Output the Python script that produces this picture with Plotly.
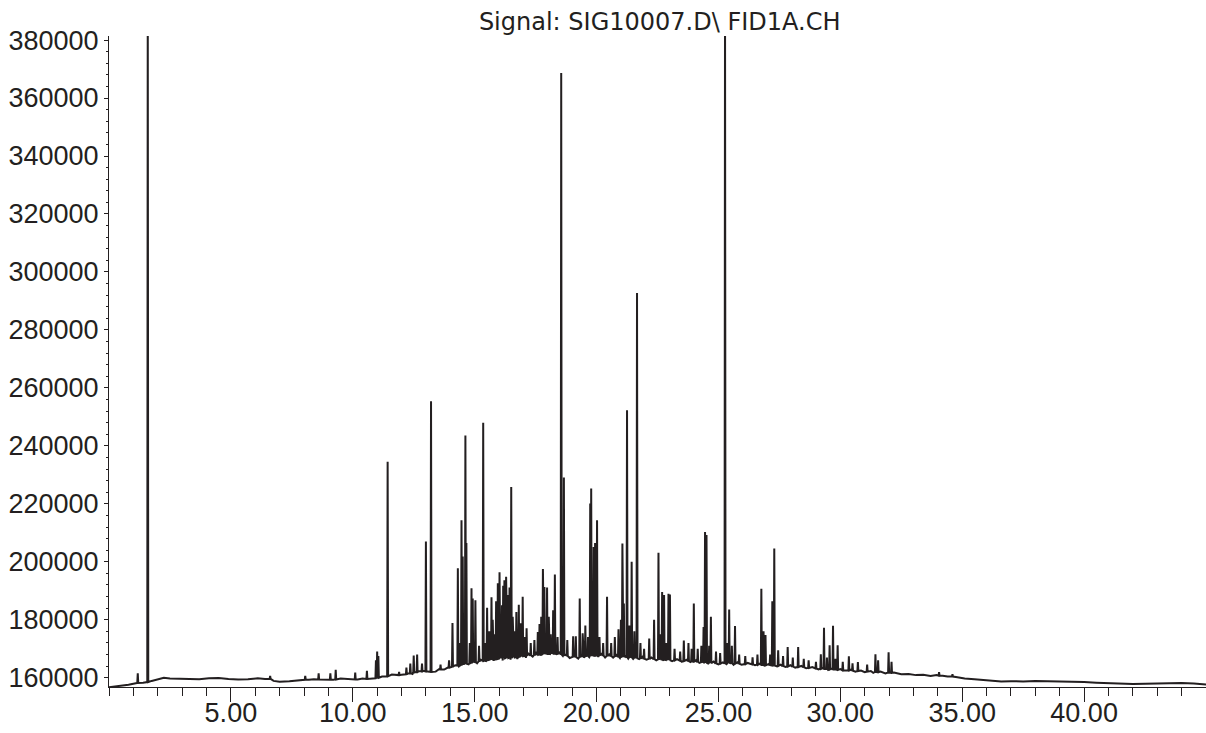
import numpy as np
import plotly.graph_objects as go

# Baseline of the FID trace: retention time (min) and detector response
base_t = [
    0.00, 0.40, 0.80, 1.10, 1.40, 1.75, 2.00, 2.25, 2.50, 2.90, 3.30, 3.70, 4.10, 4.50,
    4.90, 5.30, 5.70, 6.10, 6.40, 6.75, 7.00, 7.40, 7.80, 8.20, 8.40, 8.80, 9.20, 9.50,
    9.80, 10.20, 10.40, 10.80, 11.20, 11.60, 11.80, 12.00, 12.25, 12.45, 12.70, 12.90,
    13.10, 13.40, 13.55, 13.75, 13.90, 14.20, 14.35, 14.55, 14.75, 14.95, 15.10, 15.25,
    15.45, 15.65, 15.78, 16.00, 16.15, 16.33, 16.47, 16.60, 16.75, 16.92, 17.10, 17.20,
    17.38, 17.52, 17.70, 17.90, 18.08, 18.18, 18.35, 18.48, 18.62, 18.75, 18.90, 19.10,
    19.25, 19.38, 19.48, 19.60, 19.70, 19.85, 20.07, 20.20, 20.35, 20.52, 20.68, 20.82,
    20.96, 21.17, 21.30, 21.40, 21.50, 21.62, 21.75, 21.88, 22.05, 22.25, 22.45, 22.60,
    22.75, 22.92, 23.10, 23.30, 23.50, 23.70, 23.85, 24.08, 24.22, 24.36, 24.58, 24.80,
    25.00, 25.18, 25.33, 25.50, 25.62, 25.78, 25.95, 26.20, 26.50, 26.70, 26.90, 27.05,
    27.40, 27.55, 27.75, 27.95, 28.15, 28.40, 28.60, 28.85, 29.10, 29.28, 29.50, 29.65,
    29.85, 30.00, 30.25, 30.45, 30.62, 30.85, 31.00, 31.25, 31.35, 31.65, 31.85, 32.20,
    32.50, 32.80, 33.10, 33.40, 33.70, 33.95, 34.20, 34.40, 34.80, 35.10, 35.50, 35.80,
    36.20, 36.60, 37.00, 37.50, 38.00, 38.50, 39.00, 39.50, 40.00, 40.50, 41.00, 41.50,
    42.00, 42.50, 43.00, 43.50, 44.00, 44.50, 45.00,
]
base_v = [
    156700, 157100, 157600, 158100, 158300, 158900, 159500, 160000, 159700, 159600, 159500, 159500, 159800, 159900,
    159600, 159400, 159500, 159800, 159600, 158900, 158600, 158800, 159200, 159300, 159500, 159300, 159300, 159700,
    159500, 159400, 159700, 159800, 160400, 161100, 160800, 161000, 161500, 161300, 162200, 162400,
    162000, 162100, 163000, 162800, 163500, 164300, 163900, 165000, 164600, 165600, 165000, 166200,
    165500, 166600, 165800, 167000, 165900, 167400, 166200, 167300, 166500, 167900, 166800, 168300,
    167300, 168500, 167600, 168800, 167900, 169000, 168100, 168700, 167500, 168000, 166800, 167600,
    166600, 167800, 166900, 168000, 167100, 168200, 167200, 168200, 167000, 168000, 166900, 167800,
    166800, 167500, 166600, 167600, 166500, 167400, 166400, 167200, 166200, 167000, 166000, 166800,
    165900, 166600, 165700, 166400, 165500, 166200, 165400, 166000, 165100, 165800, 164900, 165600,
    164600, 165300, 164700, 165200, 164500, 165300, 164500, 165100, 164300, 164900, 164000, 164700,
    163900, 164500, 163700, 164300, 163500, 164100, 163300, 163700, 162900, 163400, 162700, 163200,
    162500, 163000, 162400, 162800, 162100, 162500, 161900, 162300, 161700, 162100, 161500, 161800,
    161200, 161300, 160900, 161000, 160600, 160900, 160700, 160400, 160200, 159700, 159500, 159300,
    158900, 158700, 158800, 158700, 158900, 158800, 158900, 158600, 158500, 158300, 158100, 157900,
    157800, 157900, 158000, 158100, 158200, 158000, 157700,
]

# Peak table: retention time, apex response, response at the peak foot
peak_rt = [
    1.18, 1.59, 6.61, 8.05, 8.60, 9.08, 9.30, 10.10, 10.58, 10.95, 11.00, 11.05, 11.43, 11.90,
    12.20, 12.36, 12.50, 12.64, 12.84, 13.00, 13.21, 13.60, 13.95, 14.09, 14.31, 14.40, 14.46,
    14.51, 14.62, 14.66, 14.80, 14.87, 14.92, 15.03, 15.18, 15.35, 15.42, 15.51, 15.60, 15.69,
    15.74, 15.81, 15.88, 15.95, 16.02, 16.07, 16.12, 16.17, 16.22, 16.29, 16.36, 16.43, 16.50,
    16.56, 16.63, 16.71, 16.81, 16.88, 16.97, 17.05, 17.13, 17.30, 17.45, 17.59, 17.66, 17.73,
    17.80, 17.86, 17.97, 18.04, 18.12, 18.22, 18.29, 18.40, 18.55, 18.66, 18.80, 19.04, 19.15,
    19.31, 19.43, 19.54, 19.65, 19.74, 19.78, 19.88, 19.94, 20.02, 20.12, 20.27, 20.43, 20.60,
    20.75, 20.90, 21.00, 21.06, 21.12, 21.25, 21.35, 21.44, 21.55, 21.66, 21.80, 21.95, 22.16,
    22.36, 22.54, 22.63, 22.69, 22.77, 22.86, 22.95, 23.01, 23.20, 23.43, 23.58, 23.77, 23.90,
    23.99, 24.15, 24.30, 24.39, 24.45, 24.51, 24.62, 24.69, 24.90, 25.07, 25.27, 25.37, 25.44,
    25.55, 25.68, 25.85, 26.10, 26.40, 26.60, 26.76, 26.85, 26.93, 27.12, 27.21, 27.29, 27.45,
    27.65, 27.84, 28.05, 28.27, 28.50, 28.70, 29.00, 29.20, 29.33, 29.45, 29.56, 29.70, 29.80,
    29.89, 30.10, 30.35, 30.50, 30.72, 31.10, 31.44, 31.55, 31.98, 32.10, 34.05, 34.60,
]
peak_top = [
    161500, 395000, 160600, 160600, 161500, 161500, 162700, 161800, 162350, 166000, 169000, 167500, 234500, 162000,
    163500, 164900, 167700, 168000, 164900, 207000, 255400, 164500, 166000, 178900, 197800, 172000, 214300,
    201800, 243600, 206500, 172000, 190900, 187300, 186700, 171000, 248000, 172000, 184100, 176000, 187800,
    180000, 175000, 186400, 192600, 196400, 180000, 185000, 191700, 193600, 194800, 188500, 191100, 225800,
    181000, 176000, 182700, 185200, 178800, 187900, 174000, 177100, 172000, 173000, 175800, 178500, 181000,
    197500, 191300, 191100, 181000, 175000, 183300, 195600, 174000, 368600, 229100, 173000, 174300, 174300,
    187300, 175300, 178000, 174000, 220100, 225300, 205100, 206500, 214300, 174000, 172000, 187900, 172000,
    174000, 176700, 180000, 206300, 185600, 252300, 178000, 200000, 176000, 292700, 172000, 170000, 173500,
    180000, 203100, 175000, 189600, 188500, 172000, 189000, 188700, 170000, 169000, 172800, 172000, 170000,
    185600, 170000, 171000, 177500, 210300, 209200, 171000, 181000, 169000, 168500, 395000, 172000, 183500,
    171000, 177800, 168000, 167500, 167000, 168000, 190700, 176000, 174700, 168000, 186400, 204600, 169500,
    167500, 170600, 167000, 170600, 166500, 166000, 165500, 168100, 177200, 167000, 171200, 177900, 166500,
    171200, 165500, 167400, 165000, 165450, 164500, 168100, 166000, 168800, 165500, 161900, 161200,
]
peak_foot = [
    158200, 158500, 159600, 159300, 159400, 159300, 159400, 159400, 159600, 159800, 159900, 160000, 160500, 160900,
    161200, 161500, 161800, 162000, 162200, 162200, 162000, 162800, 163500, 163800, 164200, 164300, 164400,
    164500, 164700, 164800, 165000, 165100, 165200, 165400, 165600, 165800, 165900, 166000, 166100, 166200,
    166300, 166300, 166400, 166500, 166600, 166600, 166600, 166700, 166700, 166800, 166800, 166900, 166900,
    167000, 167000, 167100, 167200, 167300, 167400, 167500, 167600, 167700, 167800, 167900, 168000, 168000,
    168100, 168100, 168200, 168200, 168300, 168300, 168300, 168200, 168000, 167800, 167500, 167200, 167100,
    167100, 167200, 167300, 167400, 167500, 167500, 167600, 167600, 167700, 167700, 167600, 167500, 167400,
    167300, 167200, 167200, 167100, 167100, 167000, 167000, 166900, 166800, 166700, 166600, 166500, 166500,
    166400, 166300, 166300, 166200, 166200, 166100, 166100, 166000, 166000, 165900, 165800, 165700, 165600,
    165500, 165400, 165300, 165200, 165100, 165100, 165000, 165000, 164900, 164900, 164900, 164900, 164900,
    164900, 164900, 164800, 164700, 164600, 164500, 164400, 164400, 164300, 164300, 164200, 164200, 164100,
    164000, 163900, 163800, 163700, 163600, 163400, 163200, 163100, 163000, 163000, 162900, 162800, 162800,
    162700, 162600, 162500, 162400, 162300, 162100, 162000, 161900, 161800, 161700, 160700, 160400,
]

x_tick_vals = [5, 10, 15, 20, 25, 30, 35, 40]
x_tick_text = ["5.00", "10.00", "15.00", "20.00", "25.00", "30.00", "35.00", "40.00"]
y_tick_vals = [160000, 180000, 200000, 220000, 240000, 260000, 280000, 300000,
               320000, 340000, 360000, 380000]

# Each peak is drawn as a narrow spike rising from its foot
PEAK_HALF_WIDTH = 0.02
xs = list(base_t)
ys = list(base_v)
for rt, top, foot in zip(peak_rt, peak_top, peak_foot):
    xs += [rt - PEAK_HALF_WIDTH, rt, rt + PEAK_HALF_WIDTH]
    ys += [foot, top, foot]
order = np.argsort(np.array(xs), kind="stable")
trace_x = np.array(xs)[order]
trace_y = np.array(ys)[order]

INK = "#231f20"
FONT = "Liberation Sans, Arial, sans-serif"

fig = go.Figure(
    go.Scatter(
        x=trace_x, y=trace_y, mode="lines",
        line=dict(color=INK, width=2),
        hoverinfo="skip", showlegend=False,
    )
)

fig.update_layout(
    width=1206, height=733,
    margin=dict(l=109, r=0, t=36, b=46),
    paper_bgcolor="white", plot_bgcolor="white",
    title=dict(
        text="Signal: SIG10007.D\\ FID1A.CH",
        x=0.547, xanchor="center", y=0.971, yanchor="middle",
        font=dict(family="DejaVu Sans, sans-serif", size=24, color=INK),
    ),
    font=dict(family=FONT, color=INK),
)

fig.update_xaxes(
    range=[0, 45], showgrid=False, zeroline=False, automargin=False,
    showline=True, linecolor=INK, linewidth=1.2,
    tickmode="array", tickvals=x_tick_vals, ticktext=x_tick_text,
    ticks="outside", ticklen=14, tickwidth=1.2, tickcolor=INK,
    ticklabelstandoff=-13,
    tickfont=dict(family=FONT, size=27, color=INK),
    minor=dict(dtick=1, ticks="outside", ticklen=8, tickwidth=1, tickcolor=INK, showgrid=False),
)
fig.update_yaxes(
    range=[156800, 381400], showgrid=False, zeroline=False, automargin=False,
    showline=True, linecolor=INK, linewidth=1.2,
    tickmode="array", tickvals=y_tick_vals, tickformat="d",
    ticks="outside", ticklen=4, tickwidth=1.2, tickcolor=INK,
    tickfont=dict(family=FONT, size=27, color=INK),
    minor=dict(dtick=4000, ticks="outside", ticklen=2, tickwidth=1, tickcolor=INK, showgrid=False),
)

fig.write_html("out.html")
